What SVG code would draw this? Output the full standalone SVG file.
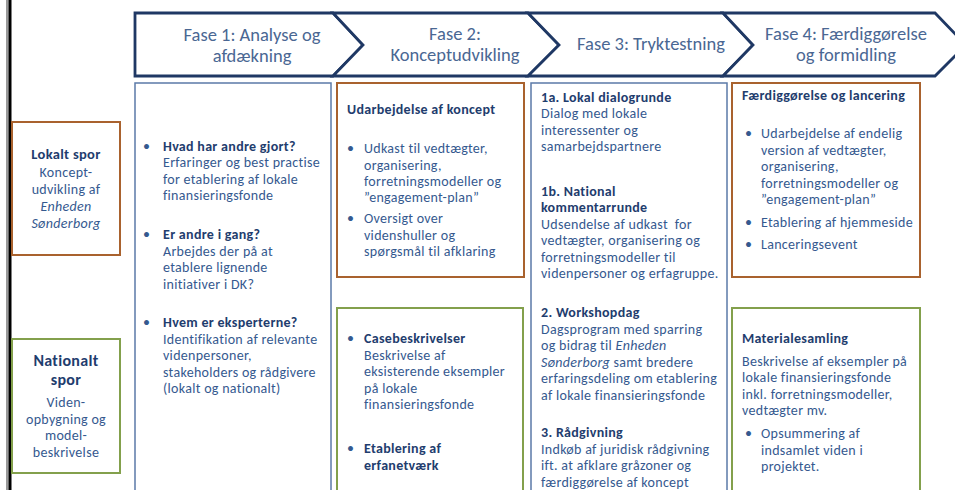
<svg xmlns="http://www.w3.org/2000/svg" width="955" height="490" viewBox="0 0 955 490">
<style>
text{font-family:Carlito,Lato,"Liberation Sans",sans-serif;font-size:14px;letter-spacing:0.3px;fill:#35598f}
.b{font-weight:bold;fill:#1f3d6e}
.i{font-style:italic}
.h{font-size:18.5px;letter-spacing:0;fill:#4a6793;text-anchor:middle}
.c{text-anchor:middle}
.chev{fill:#fff;stroke:#1f3864;stroke-width:2.8;stroke-linejoin:miter}
.col{fill:#fff;stroke:#5b7aa8;stroke-width:1.5}
.brown{fill:#fff;stroke:#a9622e;stroke-width:2}
.green{fill:#fff;stroke:#83a04c;stroke-width:2}
</style>
<rect width="955" height="490" fill="#fff"/>
<rect x="6" y="0" width="2.5" height="490" fill="#9a9a9a"/>
<rect x="8.5" y="0" width="3" height="490" fill="#000"/>

<g id="fase1"><path class="chev" d="M135,13 L333,13 L363,45 L333,76 L135,76 Z"/>
<text class="h" x="252" y="41">Fase 1: Analyse og</text><text class="h" x="252" y="62">afdækning</text></g>
<g id="fase2"><path class="chev" d="M333,13 L528,13 L559,45 L528,76 L333,76 L363,45 Z"/>
<text class="h" x="455" y="40">Fase 2:</text><text class="h" x="455" y="61">Konceptudvikling</text></g>
<g id="fase3"><path class="chev" d="M528,13 L723,13 L753,45 L723,76 L528,76 L559,45 Z"/>
<text class="h" x="651" y="50">Fase 3: Tryktestning</text></g>
<g id="fase4"><path class="chev" d="M723,13 L935,13 L966,45 L935,76 L723,76 L753,45 Z"/>
<text class="h" x="846" y="40">Fase 4: Færdiggørelse</text><text class="h" x="846" y="61">og formidling</text></g>

<g id="lokalt-spor"><rect class="brown" x="12" y="122" width="108" height="133"/>
<text class="b c" x="66" y="159" style="font-size:14.5px">Lokalt spor</text>
<text class="c" x="66" y="177">Koncept-</text>
<text class="c" x="66" y="194">udvikling af</text>
<text class="c i" x="66" y="211">Enheden</text>
<text class="c i" x="66" y="228">Sønderborg</text></g>

<g id="nationalt-spor"><rect class="green" x="12" y="339" width="108" height="134"/>
<text class="b c" x="66" y="366" style="font-size:16px">Nationalt</text>
<text class="b c" x="66" y="385" style="font-size:16px">spor</text>
<text class="c" x="66" y="407">Viden-</text>
<text class="c" x="66" y="424">opbygning og</text>
<text class="c" x="66" y="440">model-</text>
<text class="c" x="66" y="457">beskrivelse</text></g>

<g id="fase1-indhold"><rect class="col" x="135" y="83" width="196" height="420"/>
<text x="143" y="151">•</text><text class="b" x="163" y="151">Hvad har andre gjort?</text>
<text x="163" y="167">Erfaringer og best practise</text>
<text x="163" y="184">for etablering af lokale</text>
<text x="163" y="200">finansieringsfonde</text>
<text x="143" y="239">•</text><text class="b" x="163" y="239">Er andre i gang?</text>
<text x="163" y="256">Arbejdes der på at</text>
<text x="163" y="272">etablere lignende</text>
<text x="163" y="289">initiativer i DK?</text>
<text x="143" y="327">•</text><text class="b" x="163" y="327">Hvem er eksperterne?</text>
<text x="163" y="344">Identifikation af relevante</text>
<text x="163" y="360">videnpersoner,</text>
<text x="163" y="377">stakeholders og rådgivere</text>
<text x="163" y="393">(lokalt og nationalt)</text></g>

<g id="fase2-lokalt"><rect class="brown" x="337" y="83" width="187" height="194"/>
<text class="b" x="347" y="114">Udarbejdelse af koncept</text>
<text x="347" y="153">•</text><text x="364" y="153">Udkast til vedtægter,</text>
<text x="364" y="170">organisering,</text>
<text x="364" y="186">forretningsmodeller og</text>
<text x="364" y="202">”engagement-plan”</text>
<text x="347" y="223">•</text><text x="364" y="223">Oversigt over</text>
<text x="364" y="240">videnshuller og</text>
<text x="364" y="256">spørgsmål til afklaring</text></g>

<g id="fase2-nationalt"><rect class="green" x="337" y="308" width="186" height="200"/>
<text x="347" y="343">•</text><text class="b" x="364" y="343">Casebeskrivelser</text>
<text x="364" y="360">Beskrivelse af</text>
<text x="364" y="376">eksisterende eksempler</text>
<text x="364" y="393">på lokale</text>
<text x="364" y="409">finansieringsfonde</text>
<text x="347" y="453">•</text><text class="b" x="364" y="453">Etablering af</text>
<text class="b" x="364" y="470">erfanetværk</text></g>

<g id="fase3-indhold"><rect class="col" x="531" y="83" width="196" height="420"/>
<text class="b" x="541" y="102">1a. Lokal dialogrunde</text>
<text x="541" y="118">Dialog med lokale</text>
<text x="541" y="135">interessenter og</text>
<text x="541" y="151">samarbejdspartnere</text>
<text class="b" x="541" y="196">1b. National</text>
<text class="b" x="541" y="212">kommentarrunde</text>
<text x="541" y="229" xml:space="preserve">Udsendelse af udkast  for</text>
<text x="541" y="245">vedtægter, organisering og</text>
<text x="541" y="262">forretningsmodeller til</text>
<text x="541" y="278">videnpersoner og erfagruppe.</text>
<text class="b" x="541" y="317">2. Workshopdag</text>
<text x="541" y="334">Dagsprogram med sparring</text>
<text x="541" y="350">og bidrag til <tspan class="i">Enheden</tspan></text>
<text x="541" y="367"><tspan class="i">Sønderborg</tspan> samt bredere</text>
<text x="541" y="383">erfaringsdeling om etablering</text>
<text x="541" y="400">af lokale finansieringsfonde</text>
<text class="b" x="541" y="437">3. Rådgivning</text>
<text x="541" y="454">Indkøb af juridisk rådgivning</text>
<text x="541" y="470">ift. at afklare gråzoner og</text>
<text x="541" y="487">færdiggørelse af koncept</text></g>

<g id="fase4-lokalt"><rect class="brown" x="732" y="83" width="188" height="194"/>
<text class="b" x="742" y="100">Færdiggørelse og lancering</text>
<text x="745" y="138">•</text><text x="761" y="138">Udarbejdelse af endelig</text>
<text x="761" y="155">version af vedtægter,</text>
<text x="761" y="171">organisering,</text>
<text x="761" y="188">forretningsmodeller og</text>
<text x="761" y="204">”engagement-plan”</text>
<text x="745" y="227">•</text><text x="761" y="227">Etablering af hjemmeside</text>
<text x="745" y="249">•</text><text x="761" y="249">Lanceringsevent</text></g>

<g id="fase4-nationalt"><rect class="green" x="732" y="308" width="188" height="200"/>
<text class="b" x="742" y="343">Materialesamling</text>
<text x="742" y="366">Beskrivelse af eksempler på</text>
<text x="742" y="382">lokale finansieringsfonde</text>
<text x="742" y="399">inkl. forretningsmodeller,</text>
<text x="742" y="415">vedtægter mv.</text>
<text x="745" y="438">•</text><text x="761" y="438">Opsummering af</text>
<text x="761" y="455">indsamlet viden i</text>
<text x="761" y="471">projektet.</text></g>

<g id="connectors"></g>
</svg>
